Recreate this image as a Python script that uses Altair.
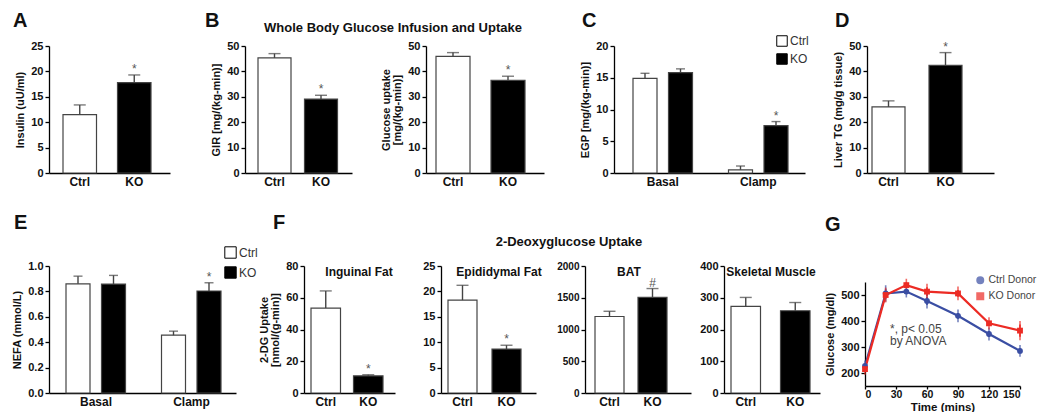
import altair as alt
import pandas as pd

FONT = "Liberation Sans"
GENO = ["Ctrl", "KO"]
PHASE = ["Basal", "Clamp"]
GRP_PHASE = ["Basal", "Basal", "Clamp", "Clamp"]
GRP_GENO = ["Ctrl", "KO", "Ctrl", "KO"]

# ---- data ----
A_mean = [11.5, 17.8]
A_err = [1.9, 1.5]
A_sig = ["", "*"]

B1_mean = [45.3, 29.1]
B1_err = [1.7, 1.5]
B1_sig = ["", "*"]

B2_mean = [45.9, 36.5]
B2_err = [1.5, 1.6]
B2_sig = ["", "*"]

C_mean = [14.9, 15.8, 0.5, 7.45]
C_err = [0.8, 0.6, 0.6, 0.65]
C_sig = ["", "", "", "*"]

D_mean = [26.0, 42.4]
D_err = [2.4, 5.0]
D_sig = ["", "*"]

E_mean = [0.86, 0.858, 0.455, 0.803]
E_err = [0.06, 0.068, 0.032, 0.065]
E_sig = ["", "", "", "*"]

F1_mean = [53.5, 10.8]
F1_err = [10.8, 0.7]
F1_sig = ["", "*"]

F2_mean = [18.3, 8.65]
F2_err = [2.9, 0.75]
F2_sig = ["", "*"]

F3_mean = [1205, 1505]
F3_err = [82, 140]
F3_sig = ["", "#"]

F4_mean = [273, 259]
F4_err = [28, 26]
F4_sig = ["", ""]

G_time = [0, 20, 40, 60, 90, 120, 150]
G_ctrl = [227, 506, 513, 477, 420, 350, 285]
G_ctrl_err = [8, 18, 9, 15, 11, 12, 9]
G_ko = [215, 500, 538, 513, 506, 391, 363]
G_ko_err = [8, 15, 11, 17, 13, 10, 24]
G_series = ["Ctrl Donor", "KO Donor"]

H = 127
TXT = "#111111"
ERRC = "#444444"


def band(W, n, off, bw, step):
    pi = 1 - bw / step
    L = W - (step * (n - 1) + bw)
    return dict(paddingInner=pi, paddingOuter=L / (2 * step), align=off / L)


def text_layer(txt, x, y, size, weight="bold", align="left", baseline="top", color=TXT):
    return alt.Chart(pd.DataFrame({"t": [txt]})).mark_text(
        font=FONT, fontSize=size, fontWeight=weight, align=align,
        baseline=baseline, color=color
    ).encode(x=alt.value(x), y=alt.value(y), text="t:N")


XAXIS = alt.Axis(title=None, ticks=False, labelAngle=0, labelFontSize=12,
                 labelPadding=3, labelFontWeight="bold", labelColor=TXT)


def bar_panel(mean, err, sig, W, ymax, yvals, ytitle, band_kw, fmt=None,
              grouped=False, inner=None, legend=None, extras=(), cap=12, ysize=11):
    if grouped:
        cats, genos = GRP_PHASE, GRP_GENO
        domain = PHASE
    else:
        cats, genos = GENO, GENO
        domain = GENO
    df = pd.DataFrame({
        "cat": cats, "geno": genos, "mean": mean,
        "hi": [m + e for m, e in zip(mean, err)], "sig": sig,
    })
    ax_kw = dict(title=ytitle, values=yvals, labelFontSize=ysize, titleFontSize=11,
                 titleLineHeight=11)
    if fmt:
        ax_kw["format"] = fmt
    yax = alt.Axis(**ax_kw)
    x = alt.X("cat:N", scale=alt.Scale(domain=domain, **band_kw), axis=XAXIS, sort=domain)
    yscale = alt.Scale(domain=[0, ymax], nice=False, zero=True)

    def Y(f):
        return alt.Y(f + ":Q", scale=yscale, axis=yax, title=ytitle)

    enc = dict(x=x)
    if grouped:
        enc["xOffset"] = alt.XOffset("geno:N", scale=alt.Scale(domain=GENO, **inner), sort=GENO)
    base = alt.Chart(df)
    bars = base.mark_bar(stroke="#444444", strokeWidth=1.2).encode(
        y=Y("mean"),
        fill=alt.Fill("geno:N", scale=alt.Scale(domain=GENO, range=["#ffffff", "#000000"]),
                      legend=legend),
        **enc)
    rule = base.mark_rule(color=ERRC, strokeWidth=1.4).encode(y=Y("mean"), y2="hi:Q", **enc)
    tick = base.mark_tick(color=ERRC, thickness=1.4, size=cap).encode(y=Y("hi"), **enc)
    st = base.mark_text(font=FONT, fontSize=12, color="#555555", baseline="bottom", dy=1).encode(
        y=Y("hi"), text="sig:N", **enc)
    return alt.layer(bars, rule, tick, st, *extras).properties(width=W, height=H)


def spacer(w, h=1):
    return alt.Chart(pd.DataFrame({"v": [0]})).mark_point(opacity=0).encode(
        x=alt.value(0), y=alt.value(0)).properties(width=w, height=h)


def legend_box(x, y, size=110, pad=2):
    return alt.Legend(orient="none", legendX=x, legendY=y, title=None, symbolType="square",
                      symbolSize=size, symbolStrokeColor="#000000", symbolStrokeWidth=1,
                      labelFont=FONT, labelFontSize=12, labelColor="#333333",
                      rowPadding=pad, labelOffset=2)


def indep(c):
    return c.resolve_scale(fill="independent", color="independent", shape="independent"
                           ).resolve_legend(fill="independent", color="independent",
                                            shape="independent")


# ---------- top row ----------
pA = bar_panel(A_mean, A_err, A_sig, 121, 25, [0, 5, 10, 15, 20, 25], "Insulin (uU/ml)",
               band(121, 2, 14, 33.5, 54.5),
               extras=[text_layer("A", -36, -35, 20)])
pB1 = bar_panel(B1_mean, B1_err, B1_sig, 107, 50, [0, 10, 20, 30, 40, 50], "GIR [mg/(kg-min)]",
                band(107, 2, 13, 33, 46.5),
                extras=[text_layer("B", -40, -35, 20),
                        text_layer("Whole Body Glucose Infusion and Uptake", 148, -18, 13,
                                   align="center", baseline="middle")])
pB2 = bar_panel(B2_mean, B2_err, B2_sig, 118, 50, [0, 10, 20, 30, 40, 50],
                ["Glucose uptake", "[mg/(kg-min)]"], band(118, 2, 10, 34, 55))
pC = bar_panel(C_mean, C_err, C_sig, 191, 20, [0, 5, 10, 15, 20], "EGP [mg/(kg-min)]",
               band(191, 2, 19, 59.5, 95.5), grouped=True,
               inner=dict(paddingInner=1 - 24 / 35.5, paddingOuter=0),
               legend=legend_box(162, -11, 110, 2), cap=9,
               extras=[text_layer("C", -32, -35, 20)])
pD = bar_panel(D_mean, D_err, D_sig, 127, 50, [0, 10, 20, 30, 40, 50], "Liver TG (mg/g tissue)",
               band(127, 2, 5, 33, 57),
               extras=[text_layer("D", -32, -35, 20)])

row1 = indep(alt.hconcat(pA, spacer(75), pB1, spacer(74), pB2, spacer(70), pC, spacer(62), pD,
                         spacing=0, bounds="flush"))

# ---------- bottom row ----------
pE = bar_panel(E_mean, E_err, E_sig, 187, 1.0, [0, 0.2, 0.4, 0.6, 0.8, 1.0], "NEFA (mmol/L)",
               band(187, 2, 17, 60, 95.5), fmt=".1f", grouped=True,
               inner=dict(paddingInner=1 - 24 / 36, paddingOuter=0),
               legend=legend_box(175, -20, 130, 3), cap=9,
               extras=[text_layer("E", -35, -53, 20)])
pF1 = bar_panel(F1_mean, F1_err, F1_sig, 91, 80, [0, 20, 40, 60, 80],
                ["2-DG Uptake", "[nmol/(g-min)]"], band(91, 2, 7, 29.5, 42.5),
                extras=[text_layer("F", -31, -53, 20),
                        text_layer("Inguinal Fat", 55, 6, 12, align="center", baseline="middle")])
pF2 = bar_panel(F2_mean, F2_err, F2_sig, 95, 25, [0, 5, 10, 15, 20, 25], None,
                band(95, 2, 7, 29, 44),
                extras=[text_layer("Epididymal Fat", 58, 6, 12, align="center", baseline="middle"),
                        text_layer("2-Deoxyglucose Uptake", 128, -24, 13, align="center",
                                   baseline="middle")])
pF3 = bar_panel(F3_mean, F3_err, F3_sig, 106, 2000, [0, 500, 1000, 1500, 2000], None,
                band(106, 2, 10, 29, 43), fmt="d", ysize=10,
                extras=[text_layer("BAT", 44, 6, 12, align="center", baseline="middle")])
pF4 = bar_panel(F4_mean, F4_err, F4_sig, 96, 400, [0, 100, 200, 300, 400], None,
                band(96, 2, 7, 29.5, 49.5),
                extras=[text_layer("Skeletal Muscle", 47, 6, 12, align="center", baseline="middle")])

# ---------- panel G ----------
g_rows = []
for s, vals, errs in [(G_series[0], G_ctrl, G_ctrl_err), (G_series[1], G_ko, G_ko_err)]:
    for t, v, e in zip(G_time, vals, errs):
        g_rows.append({"time": t, "val": v, "lo": v - e, "hi": v + e, "series": s})
dfG = pd.DataFrame(g_rows)
gx = alt.X("time:Q", scale=alt.Scale(domain=[0, 150], nice=False),
           axis=alt.Axis(values=[0, 30, 60, 90, 120, 150], title="Time (mins)", titleFontSize=11.5,
                         labelFontSize=10.5, labelPadding=0, titlePadding=2, tickSize=3),
           title="Time (mins)")
gscale = alt.Scale(domain=[150, 550], nice=False, zero=False)
gax = alt.Axis(values=[200, 300, 400, 500], title="Glucose (mg/dl)", labelFontSize=11)


def GY(f):
    return alt.Y(f + ":Q", scale=gscale, axis=gax, title="Glucose (mg/dl)")


g_leg = alt.Legend(orient="none", legendX=110, legendY=-7, title=None, labelFont=FONT,
                   labelFontSize=10.5, labelColor="#444444", symbolSize=36, rowPadding=1,
                   labelOffset=3, labelFontWeight="normal", symbolStrokeWidth=2)
gcol_scale = alt.Scale(domain=G_series, range=["#3a4ea3", "#ec2b24"])
GCOL = alt.Color("series:N", scale=gcol_scale, legend=g_leg, title=None)
gbase = alt.Chart(dfG)
g_line = gbase.mark_line(strokeWidth=2.2).encode(x=gx, y=GY("val"), color=GCOL)
g_err = gbase.mark_rule(strokeWidth=1.6).encode(x=gx, y=GY("lo"), y2="hi:Q", color=GCOL)
g_cap_hi = gbase.mark_tick(thickness=1.6, size=7).encode(x=gx, y=GY("hi"), color=GCOL)
g_cap_lo = gbase.mark_tick(thickness=1.6, size=7).encode(x=gx, y=GY("lo"), color=GCOL)
g_pts = gbase.mark_point(filled=True, size=34, opacity=1).encode(
    x=gx, y=GY("val"), color=GCOL,
    shape=alt.Shape("series:N", scale=alt.Scale(domain=G_series, range=["circle", "square"]),
                    legend=g_leg, title=None))
pG = alt.layer(
    g_line, g_err, g_cap_hi, g_cap_lo, g_pts,
    text_layer("G", -40, -67, 20),
    text_layer("*, p< 0.05", 25, 47, 12, weight="normal", baseline="middle", color="#444444"),
    text_layer("by ANOVA", 25, 59, 12, weight="normal", baseline="middle", color="#444444"),
).properties(width=155, height=104)

gcol = indep(alt.vconcat(spacer(155, 16), pG, spacing=0, bounds="flush"))

row2 = indep(alt.hconcat(pE, spacer(68), pF1, spacer(46), pF2, spacer(49), pF3, spacer(33), pF4,
                         spacer(45), gcol, spacing=0, bounds="flush"))

# nested concat groups count as zero height under "flush", so the row gap
# includes the first row's plot height (127) plus the visual gap (93)
chart = indep(alt.vconcat(row1, row2, spacing=220, bounds="flush")).properties(
    padding={"top": 3, "left": 3, "right": 0, "bottom": 0}, background="white"
).configure_view(strokeWidth=0).configure_axis(
    domainColor="#000000", domainWidth=1.3, tickColor="#000000", tickWidth=1.3, tickSize=4,
    labelFont=FONT, labelFontWeight="bold", labelColor=TXT, titleFont=FONT,
    titleFontWeight="bold", titleColor=TXT, titleFontSize=11, grid=False,
    labelPadding=2, titlePadding=5
)

chart.save("out.html", embed_options={"renderer": "svg", "actions": False})
